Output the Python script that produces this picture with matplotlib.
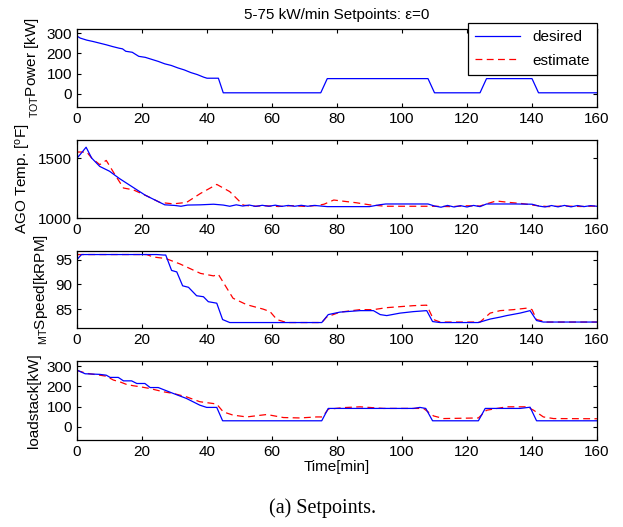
import matplotlib
matplotlib.use("Agg")
import matplotlib.pyplot as plt
from matplotlib.lines import Line2D

# time [min] and values
t_power = [0, 1, 3, 5, 7, 9, 11, 13, 14, 15, 17, 18, 19, 21, 23, 25, 27, 29, 31, 33,
           35, 37, 39, 40, 43.5, 45, 75, 77, 108, 110, 124, 126, 140, 142, 160]
power_desired = [285, 275, 265, 258, 250, 242, 233, 225, 222, 210, 205, 195, 185, 180, 170, 160, 148, 140, 128, 118,
                 105, 95, 82, 77, 77, 5, 5, 75, 75, 5, 5, 75, 75, 5, 5]

t_temp_des = [0, 1, 2.8, 4.5, 7, 10, 13, 17, 21, 24, 27, 30, 32, 34, 38, 42, 45, 47, 49, 51,
              53, 55, 57, 59, 61, 63, 65, 67, 69, 71, 73, 75, 77, 80, 85, 90, 93, 95, 100, 105,
              108, 110, 112, 114, 116, 118, 120, 122, 124, 126, 130, 135, 140, 142, 144, 146, 148, 150, 152, 154,
              156, 158, 160]
temp_desired = [1500, 1530, 1590, 1500, 1430, 1390, 1330, 1260, 1190, 1150, 1110, 1105, 1098, 1108, 1110, 1115, 1108, 1098, 1110, 1100,
                1108, 1097, 1106, 1098, 1107, 1097, 1105, 1098, 1106, 1098, 1105, 1100, 1095, 1095, 1095, 1095, 1110, 1117, 1117, 1117,
                1117, 1100, 1090, 1105, 1092, 1103, 1092, 1105, 1095, 1117, 1117, 1117, 1115, 1100, 1092, 1104, 1093, 1105, 1093, 1104,
                1095, 1103, 1098]
t_temp_est = [0, 3, 4.5, 7, 9, 11.7, 14.3, 17.3, 21.4, 25.5, 29.6, 33.7, 38, 43, 47, 51.2, 54.3, 58, 62, 66,
              70, 74, 76, 79, 82, 86, 90, 95, 100, 105, 110, 115, 120, 124, 126, 129, 133, 137, 141, 145,
              150, 155, 160]
temp_estimate = [1550, 1550, 1500, 1445, 1480, 1360, 1250, 1235, 1185, 1130, 1118, 1130, 1205, 1280, 1220, 1107, 1098, 1102, 1096, 1103,
                 1097, 1105, 1115, 1150, 1140, 1127, 1110, 1098, 1098, 1098, 1098, 1095, 1102, 1100, 1118, 1142, 1130, 1120, 1105, 1095,
                 1100, 1096, 1100]

t_speed_des = [0, 1.4, 23.5, 24.5, 26.6, 27.3, 29.1, 30.7, 32.5, 34.3, 36.8, 38.9, 40.4, 43, 44.8, 47, 75.3, 77.3, 80.9, 87.1,
               91.2, 93.3, 95.3, 99.4, 103.5, 107.6, 109.4, 111.7, 123.5, 127.1, 130.2, 132.2, 136.3, 139.4, 141.4, 143.5, 160]
speed_desired = [95, 96, 96, 96, 95.9, 95.9, 92.8, 92.5, 89.7, 89.4, 87.7, 87.5, 86.5, 86.2, 82.9, 82.3, 82.3, 83.9, 84.4, 84.7,
                 84.7, 83.9, 83.7, 84.2, 84.5, 84.7, 82.5, 82.3, 82.3, 83, 83.4, 83.7, 84.2, 84.7, 82.7, 82.4, 82.4]
t_speed_est = [0, 21.4, 23.5, 27.3, 31.7, 38, 42, 43.5, 48, 52.2, 57.3, 59.4, 61.5, 64.5, 75.3, 76.8, 80.9, 87.1, 91.2, 95.3,
               99.4, 103.5, 107.6, 109.7, 111.7, 124, 127.1, 130.2, 134.3, 138.4, 140, 141.4, 144.6, 160]
speed_estimate = [96, 96, 95.5, 95.2, 94.1, 92.2, 91.7, 92, 87.2, 85.9, 85, 84.5, 82.9, 82.3, 82.3, 83.4, 84.4, 84.9, 84.9, 85.3,
                  85.5, 85.7, 85.8, 82.9, 82.4, 82.4, 84.2, 84.7, 84.9, 85.2, 84.9, 82.9, 82.4, 82.4]

t_load_des = [0, 2.5, 7, 9, 10.2, 12.7, 14.3, 16.8, 18.4, 20.9, 22.5, 25, 29.6, 33.7, 37.8, 39.9, 43, 44.8, 75.3, 77.3,
              103.5, 105.5, 107.3, 109.4, 123.5, 125.6, 136.3, 139.4, 141.4, 160]
load_desired = [280, 262, 259, 255, 244, 244, 227, 227, 214, 214, 194, 194, 165, 140, 107, 96, 96, 30, 30, 91,
                91, 96, 91, 30, 30, 91, 91, 97, 30, 30]
t_load_est = [0, 3, 7, 9, 11.2, 13.2, 15.3, 17.3, 19.4, 22.5, 26.6, 29.6, 33.7, 37.8, 42, 43, 45, 48, 52.2, 58.4,
              63.5, 68.6, 73.7, 75.5, 77.3, 82, 87.1, 94.3, 99.4, 106.6, 109.7, 112.8, 123.5, 126, 132.2, 138.4, 140.5, 143.5, 146.6, 160]
load_estimate = [278, 264, 255, 250, 231, 222, 209, 203, 198, 189, 173, 165, 148, 124, 115, 112, 74, 58, 49, 61,
                 46, 44, 49, 49, 87, 95, 99, 91, 91, 91, 54, 41, 44, 82, 99, 99, 82, 49, 41, 40]

plt.rcParams['font.family'] = ['Liberation Sans', 'DejaVu Sans']
plt.rcParams['mathtext.fontset'] = 'custom'
plt.rcParams['mathtext.rm'] = 'Liberation Sans'
plt.rcParams['mathtext.it'] = 'Liberation Sans'
plt.rcParams['font.size'] = 11

fig = plt.figure(figsize=(6.23, 5.27), dpi=100)
left, width = 0.1236, 0.8347
ax1 = fig.add_axes([left, 0.797, width, 0.148])
ax2 = fig.add_axes([left, 0.5863, width, 0.148])
ax3 = fig.add_axes([left, 0.3776, width, 0.146])
ax4 = fig.add_axes([left, 0.165, width, 0.150])

blue = dict(color='blue', lw=0.9)
red = dict(color='red', lw=0.9, ls=(0, (5.5, 3.5)))

ax1.plot(t_power, power_desired, **blue)
ax2.plot(t_temp_est, temp_estimate, **red)
ax2.plot(t_temp_des, temp_desired, **blue)
ax3.plot(t_speed_est, speed_estimate, **red)
ax3.plot(t_speed_des, speed_desired, **blue)
ax4.plot(t_load_est, load_estimate, **red)
ax4.plot(t_load_des, load_desired, **blue)

ax1.set_ylim(-65, 320)
ax1.set_yticks([0, 100, 200, 300])
ax2.set_ylim(1000, 1650)
ax2.set_yticks([1000, 1500])
ax3.set_ylim(81.2, 96.7)
ax3.set_yticks([85, 90, 95])
ax4.set_ylim(-65, 325)
ax4.set_yticks([0, 100, 200, 300])

for ax in (ax1, ax2, ax3, ax4):
    ax.set_xlim(0, 160)
    ax.set_xticks(range(0, 161, 20))
    ax.tick_params(direction='in', top=True, right=True, length=3, width=0.8, labelsize=11)
    for s in ax.spines.values():
        s.set_linewidth(0.9)

ax1.set_ylabel(r'$_{\mathrm{TOT}}$Power [kW]')
ax2.set_ylabel(r'AGO Temp. [$^{\mathrm{o}}$F]')
ax3.set_ylabel(r'$_{\mathrm{MT}}$Speed[kRPM]')
ax4.set_ylabel('loadstack[kW]')
ax4.set_xlabel('Time[min]', labelpad=1)

ax1.set_title('5-75 kW/min Setpoints: \u03b5=0', fontsize=11, pad=7)

handles = [Line2D([], [], **blue), Line2D([], [], **red)]
leg = ax1.legend(handles, ['desired', 'estimate'], loc='upper right', bbox_to_anchor=(1.0, 1.077),
                 borderaxespad=0, fancybox=False, framealpha=1, edgecolor='black', handlelength=3.0,
                 fontsize=11, borderpad=0.45, labelspacing=0.65)
leg.get_frame().set_linewidth(0.9)

fig.text(0.517, 1 - 508 / 527, '(a) Setpoints.', ha='center', va='center',
         family=['Liberation Serif', 'DejaVu Serif'], fontsize=14.5)

fig.savefig('out.png', dpi=100)
